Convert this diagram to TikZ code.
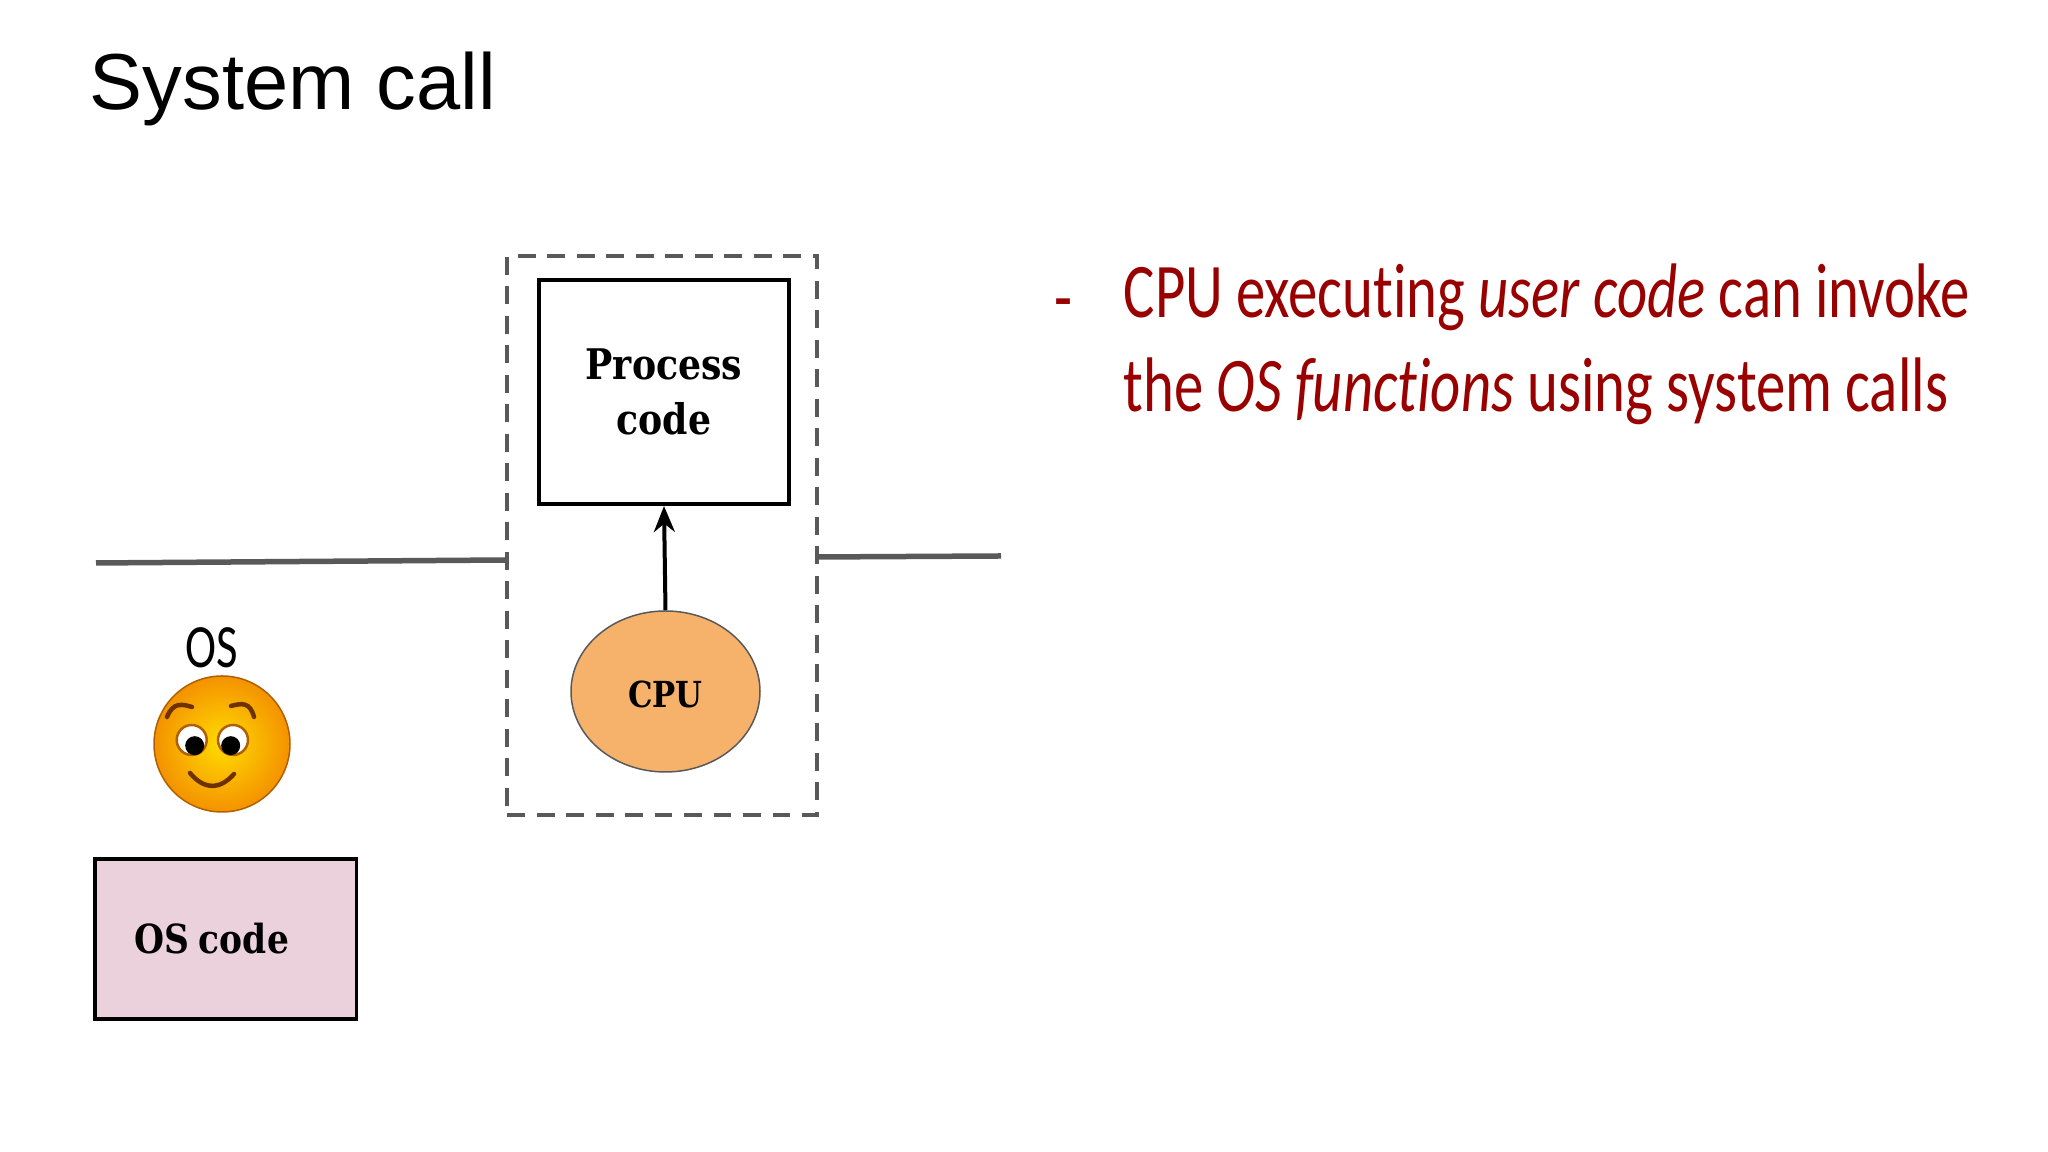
\documentclass[tikz,border=0pt]{standalone}
\usepackage{fontspec}
\usepackage{xcolor}
\setmainfont{Liberation Sans}
\newfontfamily\notefont[FakeStretch=0.76,Ligatures=NoCommon]{Carlito}
\newfontfamily\labelfont[FakeStretch=0.86]{DejaVu Serif}
\usetikzlibrary{arrows.meta, positioning, shapes.geometric, calc}
\definecolor{rule}{RGB}{89,89,89}
\definecolor{noteRed}{RGB}{153,0,0}
\definecolor{cpuFill}{RGB}{246,178,107}
\definecolor{osFill}{RGB}{234,209,220}
\definecolor{faceEdge}{RGB}{176,96,0}
\definecolor{faceInk}{RGB}{110,50,0}
\definecolor{faceMid}{RGB}{255,220,0}
\definecolor{faceOut}{RGB}{244,146,0}

\begin{document}
\begin{tikzpicture}[
  box/.style={draw, black, line width=0.036cm, align=center, text=black, inner sep=0pt,
              font=\labelfont\bfseries\fontsize{12}{15.6}\selectfont},
  procbox/.style={box, minimum width=2.50cm, minimum height=2.245cm},
  osbox/.style={box, fill=osFill, minimum width=2.615cm, minimum height=1.6cm,
              font=\labelfont\bfseries\fontsize{11.4}{15}\selectfont},
  cpunode/.style={ellipse, draw=rule, fill=cpuFill, line width=0.015cm, inner sep=0pt,
              minimum width=1.89cm, minimum height=1.61cm, text height=9.2pt,
              font=\labelfont\bfseries\fontsize{10.2}{13}\selectfont},
  area/.style={draw=rule, line width=0.045cm, dash pattern=on 0.18cm off 0.115cm,
              minimum width=3.10cm, minimum height=5.59cm, inner sep=0pt},
  ground/.style={rule, line width=0.055cm},
  arr/.style={-{Stealth[length=2.6mm, width=2.1mm]}, black, line width=0.04cm},
  note/.style={noteRed, inner sep=0pt, font=\notefont\fontsize{22}{26.7}\selectfont},
  facepart/.style={faceInk, line width=0.045cm, line cap=round}]
  \useasboundingbox (0,0) rectangle (20.48,11.52);
  \node[anchor=base west, inner sep=0pt, font=\fontsize{22.6}{27}\selectfont] (title) at (0.89,10.42) {System call};

  \node[area] (kernelgap) at (6.62,6.165) {};
  \node[procbox] (proc) at (6.64,7.60) {Process\\code};
  \node[cpunode] (cpu) at (6.655,4.605) {CPU};
  \node[osbox, text width=1.83cm, align=left] (oscode) at (2.2575,2.13) {OS\kern-1pt\ code};
  \draw[arr] (cpu.north) -- (proc.south);

  \coordinate (leftend) at (0.96,5.89);
  \coordinate (leftgap) at (5.07,5.92);
  \coordinate (rightgap) at (8.17,5.95);
  \coordinate (rightend) at (10.01,5.96);
  \draw[ground] (leftend) -- (leftgap);
  \draw[ground] (rightgap) -- (rightend);

  \node[inner sep=0pt, font=\notefont\fontsize{17.5}{22}\selectfont] (oslabel) at (2.12,5.04) {OS};
  \shade[inner color=faceMid, outer color=faceOut, draw=faceEdge, line width=0.015cm] (2.22,4.08) circle (0.68);
  \foreach \ex/\px in {1.917/1.947, 2.33/2.307} {
    \fill[white, draw=faceEdge, line width=0.025cm] (\ex,4.12) circle (0.15);
    \fill[black] (\px,4.063) circle (0.095);
  }
  \draw[facepart] (1.67,4.35) .. controls (1.73,4.50) and (1.82,4.48) .. (1.92,4.45);
  \draw[facepart] (2.31,4.46) .. controls (2.42,4.49) and (2.50,4.50) .. (2.54,4.35);
  \draw[facepart] (1.90,3.79) .. controls (2.04,3.62) and (2.20,3.62) .. (2.34,3.78);

  \node[note, anchor=base west] (dash) at (10.54,8.28) {-};
  \node[note, anchor=north west, align=left] (bullet) at (11.23,8.89)
    {CPU executing \textit{user code} can invoke\\the \textit{OS functions} using system calls};
\end{tikzpicture}
\end{document}
